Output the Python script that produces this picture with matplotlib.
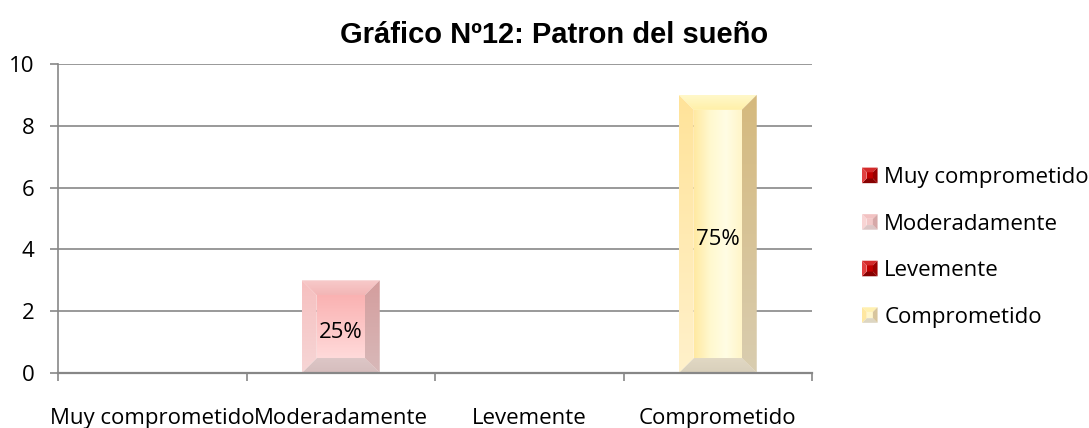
import numpy as np
import matplotlib
matplotlib.use("Agg")
import matplotlib.pyplot as plt
from matplotlib.patches import Polygon, Rectangle
from matplotlib.colors import LinearSegmentedColormap
from matplotlib.legend_handler import HandlerBase

# ---- data ----
categories = ['Muy comprometido', 'Moderadamente', 'Levemente', 'Comprometido']
values = [0, 3, 0, 9]
pct_labels = ['', '25%', '', '75%']
title = 'Gráfico Nº12: Patron del sueño'
yticks = [0, 2, 4, 6, 8, 10]

# ---- styles ----
FONT = 'Open Sans'
FS = 16
GRAY = '#878787'
front_cols = {1: (['#FFDADA', '#FAB2B2'], True),
              3: (['#FFE9A2', '#FFF8CE', '#FFFDE4', '#FFF5C8'], False)}
bevel_cols = {
    1: dict(left=['#F6D6D6', '#F6BFBF'], right=['#D8B9B9', '#D49D9D'],
            top=['#F3B6B6', '#F7CACA'], bottom=['#D6BDBD', '#DDC7C7']),
    3: dict(left=['#FFF1CB', '#FFE399'], right=['#D9CDB0', '#D5B97D'],
            top=['#FFF0A8', '#FFF8CA'], bottom=['#D8CFBB', '#E2D9C4']),
}
legend_cols = [
    dict(top='#D42A2A', left='#E04040', right='#9A0000', bottom='#870000', mid='#C00000'),
    dict(top='#F2C2C2', left='#F8D4D4', right='#D6A8A8', bottom='#DCC6C6', mid='#F2C8C8'),
    dict(top='#D42A2A', left='#E04040', right='#9A0000', bottom='#870000', mid='#C00000'),
    dict(top='#FFF0B0', left='#FFE7A0', right='#D8C59C', bottom='#DDD6C2', mid='#FFF6CC'),
]

W, H = 1089, 428
fig = plt.figure(figsize=(W / 100, H / 100), dpi=100)
ax = fig.add_axes([58 / W, (H - 373) / H, (812 - 58) / W, (373 - 64) / H])

x = np.arange(len(categories))
bar_w = 78 / 188.5
bars = ax.bar(x, values, width=bar_w, color='none', zorder=2)

ax.set_xlim(-0.5, len(categories) - 0.5)
ax.set_ylim(0, 10)
ax.set_yticks(yticks)
ax.set_yticklabels([str(v) for v in yticks], fontsize=FS, family=FONT)
ax.set_xticks(np.arange(len(categories) + 1) - 0.5)
ax.set_xticklabels([])
ax.set_xticks(x, minor=True)
ax.set_xticklabels(categories, minor=True, fontsize=FS, family=FONT)
ax.tick_params(axis='x', which='major', length=6, color=GRAY, width=1.2)
ax.tick_params(axis='x', which='minor', length=0, pad=25)
ax.tick_params(axis='y', which='major', length=6, color=GRAY, width=1.2, pad=11)
ax.yaxis.grid(True, color=GRAY, lw=1.2)
ax.set_axisbelow(True)
for s in ['top', 'right']:
    ax.spines[s].set_visible(False)
ax.spines['left'].set_color(GRAY)
ax.spines['left'].set_linewidth(1.2)
ax.spines['bottom'].set_color(GRAY)
ax.spines['bottom'].set_linewidth(1.6)
ax.spines['bottom'].set_zorder(6)


def facet(pts, colors, vertical=True, z=3):
    cmap = LinearSegmentedColormap.from_list('f', colors)
    g = np.linspace(0, 1, 256)
    arr = g.reshape(-1, 1) if vertical else g.reshape(1, -1)
    xs = [p[0] for p in pts]
    ys = [p[1] for p in pts]
    poly = Polygon(pts, closed=True, facecolor='none', edgecolor='none',
                   transform=ax.transData)
    ax.add_patch(poly)
    im = ax.imshow(arr, cmap=cmap, extent=(min(xs), max(xs), min(ys), max(ys)),
                   origin='lower', aspect='auto', interpolation='bilinear', zorder=z)
    im.set_clip_path(poly)


# pixel -> data conversion for bevel size
inv = ax.transData.inverted()
p0 = inv.transform((0, 0))
p1 = inv.transform((15, 15))
dx, dy = p1[0] - p0[0], p1[1] - p0[1]

for i, b in enumerate(bars.patches):
    if values[i] <= 0:
        continue
    x0 = b.get_x()
    x1 = x0 + b.get_width()
    y0 = 0
    y1 = b.get_height()
    fc, vert = front_cols[i]
    facet([(x0 + dx, y0 + dy), (x1 - dx, y0 + dy), (x1 - dx, y1 - dy), (x0 + dx, y1 - dy)], fc, vert)
    bc = bevel_cols[i]
    facet([(x0, y1), (x1, y1), (x1 - dx, y1 - dy), (x0 + dx, y1 - dy)], bc['top'], True, 4)
    facet([(x0, y0), (x1, y0), (x1 - dx, y0 + dy), (x0 + dx, y0 + dy)], bc['bottom'], True, 4)
    facet([(x0, y0), (x0 + dx, y0 + dy), (x0 + dx, y1 - dy), (x0, y1)], bc['left'], True, 4)
    facet([(x1, y0), (x1 - dx, y0 + dy), (x1 - dx, y1 - dy), (x1, y1)], bc['right'], True, 4)
    ax.annotate(pct_labels[i], (b.get_x() + b.get_width() / 2, y1 / 2),
                xytext=(0, -4), textcoords='offset points', ha='center',
                va='center', fontsize=FS, family=FONT, zorder=7)

ax.set_xlim(-0.5, len(categories) - 0.5)
ax.set_ylim(0, 10)

fig.text(554 / W, 1 - 35 / H, title, ha='center', va='center', fontsize=21,
         fontweight='bold', family='Liberation Sans')


class BevelHandler(HandlerBase):
    def __init__(self, cols):
        super().__init__()
        self.cols = cols

    def create_artists(self, legend, orig_handle, xdescent, ydescent, width,
                       height, fontsize, trans):
        s = min(width, height)
        x0 = -xdescent + (width - s) / 2
        y0 = -ydescent + (height - s) / 2
        bb = s * 0.3
        c = self.cols
        polys = [
            ([(x0 + bb, y0 + bb), (x0 + s - bb, y0 + bb), (x0 + s - bb, y0 + s - bb), (x0 + bb, y0 + s - bb)], c['mid']),
            ([(x0, y0 + s), (x0 + s, y0 + s), (x0 + s - bb, y0 + s - bb), (x0 + bb, y0 + s - bb)], c['top']),
            ([(x0, y0), (x0 + s, y0), (x0 + s - bb, y0 + bb), (x0 + bb, y0 + bb)], c['bottom']),
            ([(x0, y0), (x0 + bb, y0 + bb), (x0 + bb, y0 + s - bb), (x0, y0 + s)], c['left']),
            ([(x0 + s, y0), (x0 + s - bb, y0 + bb), (x0 + s - bb, y0 + s - bb), (x0 + s, y0 + s)], c['right']),
        ]
        return [Polygon(p, closed=True, facecolor=col, edgecolor='none', transform=trans)
                for p, col in polys]


handles = [Rectangle((0, 0), 1, 1) for _ in categories]
hmap = {h: BevelHandler(c) for h, c in zip(handles, legend_cols)}
leg = fig.legend(handles, categories, loc='center left',
                 bbox_to_anchor=(862 / W, 1 - 247.5 / H), frameon=False,
                 prop={'family': FONT, 'size': FS}, handler_map=hmap,
                 handlelength=0.7, handleheight=0.7, handletextpad=0.3,
                 labelspacing=1.15, borderpad=0, borderaxespad=0)

fig.savefig('out.png', dpi=100)
